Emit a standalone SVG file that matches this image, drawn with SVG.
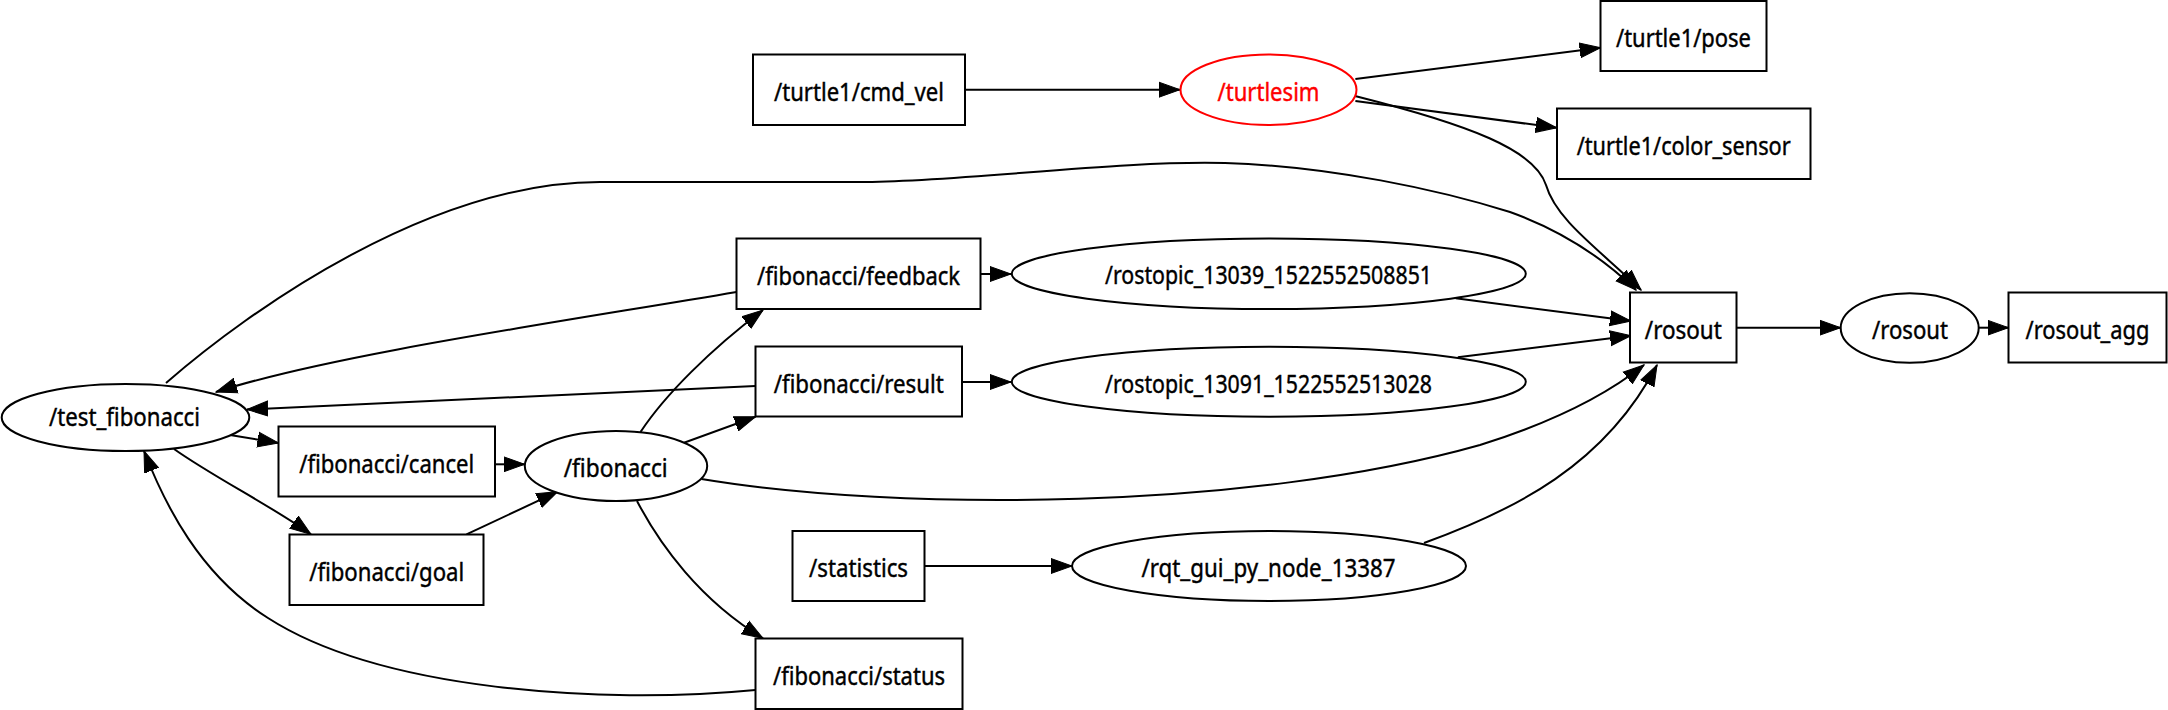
<svg xmlns="http://www.w3.org/2000/svg" width="2168" height="710" viewBox="0 0 2168 710">
<style>
.n{fill:#fff;stroke:#000;stroke-width:2}
.r{fill:#fff;stroke:#f00;stroke-width:2}
text{font-family:"Noto Sans","Open Sans","Liberation Sans",sans-serif;font-size:26px;text-anchor:middle;fill:#000;stroke:#000;stroke-width:0.45}
.rt{fill:#f00;stroke:#f00}
.e path{fill:none;stroke:#000;stroke-width:2;marker-end:url(#a)}
</style>
<defs>
<marker id="a" markerUnits="userSpaceOnUse" markerWidth="24" markerHeight="18" refX="21" refY="8" orient="auto" viewBox="0 0 24 16">
<path d="M0,0.5 L21,8 L0,15.5 z" fill="#000" stroke="#000" stroke-width="1"/>
</marker>
</defs>
<rect width="2168" height="710" fill="#fff"/>
<g class="e" id="edges">
<path d="M965.5,89.7 L1180,89.7"/>
<path d="M1355.4,79 L1600.6,47.7"/>
<path d="M1355.4,101 L1556.8,127.7"/>
<path d="M1355,96 C1470,125 1535,150 1546,185 C1556,220 1600,250 1641,290"/>
<path d="M166,383 C250,310 430,182 600,182 L860,182 C960,182 1120,160 1225,163 C1330,166 1440,190 1510,212 C1560,230 1600,255 1636,290"/>
<path d="M736.6,292 C560,322 330,355 216,392"/>
<path d="M980.7,274 L1011,274"/>
<path d="M1455.7,298.3 L1631,321"/>
<path d="M755.5,386 L247,409.5"/>
<path d="M961.8,382 L1011,382"/>
<path d="M1457.8,357.3 L1631,335.7"/>
<path d="M230,435 L278.5,443"/>
<path d="M174,449 C215,478 270,505 311,534.3"/>
<path d="M494.6,464.3 L524.7,464.3"/>
<path d="M466.5,534.3 L557.7,491.7"/>
<path d="M640.5,432 C665,395 710,350 763,310"/>
<path d="M684,442.7 L755.5,416.7"/>
<path d="M701.5,479 C900,512 1250,510 1480,445 C1560,420 1610,392 1644,365"/>
<path d="M637,501 C660,545 700,600 763,638.3"/>
<path d="M755.5,690 C600,705 380,690 268,618 C200,575 165,505 144,451"/>
<path d="M924.6,566 L1072,566"/>
<path d="M1424,543 C1515,510 1605,465 1657,365"/>
<path d="M1736.7,327.7 L1840.7,327.7"/>
<path d="M1978.7,327.7 L2008.5,327.7"/>
</g>
<g id="cmd_vel"><rect class="n" x="753" y="54.5" width="212" height="70.5"/><text x="859" y="100.5" textLength="170" lengthAdjust="spacingAndGlyphs">/turtle1/cmd_vel</text></g>
<g id="turtlesim"><ellipse class="r" cx="1268.5" cy="89.7" rx="88" ry="35.3"/><text class="rt" x="1268.5" y="100.5" textLength="102" lengthAdjust="spacingAndGlyphs">/turtlesim</text></g>
<g id="pose"><rect class="n" x="1600.5" y="1" width="166" height="70"/><text x="1683.5" y="46.5" textLength="135" lengthAdjust="spacingAndGlyphs">/turtle1/pose</text></g>
<g id="color_sensor"><rect class="n" x="1557" y="108.5" width="253.5" height="70.5"/><text x="1683.7" y="154.5" textLength="214" lengthAdjust="spacingAndGlyphs">/turtle1/color_sensor</text></g>
<g id="feedback"><rect class="n" x="736.5" y="238.5" width="244" height="70.5"/><text x="858.6" y="284.5" textLength="203" lengthAdjust="spacingAndGlyphs">/fibonacci/feedback</text></g>
<g id="rostopic_13039"><ellipse class="n" cx="1268.8" cy="273.7" rx="257" ry="35.3"/><text x="1268.5" y="284.3" textLength="327" lengthAdjust="spacingAndGlyphs">/rostopic_13039_1522552508851</text></g>
<g id="rostopic_13091"><ellipse class="n" cx="1268.8" cy="381.8" rx="257" ry="35"/><text x="1268.5" y="392.8" textLength="327" lengthAdjust="spacingAndGlyphs">/rostopic_13091_1522552513028</text></g>
<g id="rosout_topic"><rect class="n" x="1630" y="292.5" width="106.5" height="70"/><text x="1683.3" y="338.7" textLength="77" lengthAdjust="spacingAndGlyphs">/rosout</text></g>
<g id="rosout_node"><ellipse class="n" cx="1909.7" cy="328" rx="69" ry="34.7"/><text x="1910" y="338.7" textLength="76" lengthAdjust="spacingAndGlyphs">/rosout</text></g>
<g id="rosout_agg"><rect class="n" x="2008.5" y="292.5" width="158" height="70"/><text x="2087.5" y="338.7" textLength="124" lengthAdjust="spacingAndGlyphs">/rosout_agg</text></g>
<g id="test_fibonacci"><ellipse class="n" cx="125.5" cy="417.5" rx="123.8" ry="33.5"/><text x="124.5" y="425.5" textLength="151" lengthAdjust="spacingAndGlyphs">/test_fibonacci</text></g>
<g id="cancel"><rect class="n" x="278.5" y="426.5" width="216.5" height="70"/><text x="386.7" y="472.5" textLength="175" lengthAdjust="spacingAndGlyphs">/fibonacci/cancel</text></g>
<g id="fibonacci"><ellipse class="n" cx="616" cy="466" rx="91.2" ry="35"/><text x="615.7" y="476.5" textLength="104" lengthAdjust="spacingAndGlyphs">/fibonacci</text></g>
<g id="result"><rect class="n" x="755.5" y="346.5" width="206.5" height="70"/><text x="858.7" y="392.5" textLength="170" lengthAdjust="spacingAndGlyphs">/fibonacci/result</text></g>
<g id="goal"><rect class="n" x="289.5" y="534.5" width="194" height="70.5"/><text x="386.7" y="580.5" textLength="155" lengthAdjust="spacingAndGlyphs">/fibonacci/goal</text></g>
<g id="status"><rect class="n" x="755.5" y="638.5" width="207" height="70.5"/><text x="859" y="684.5" textLength="172" lengthAdjust="spacingAndGlyphs">/fibonacci/status</text></g>
<g id="statistics"><rect class="n" x="792.5" y="531" width="132" height="70"/><text x="858.5" y="577" textLength="99" lengthAdjust="spacingAndGlyphs">/statistics</text></g>
<g id="rqt_gui_py_node_13387"><ellipse class="n" cx="1269" cy="566" rx="197" ry="35"/><text x="1268.5" y="577" textLength="254" lengthAdjust="spacingAndGlyphs">/rqt_gui_py_node_13387</text></g>
</svg>
